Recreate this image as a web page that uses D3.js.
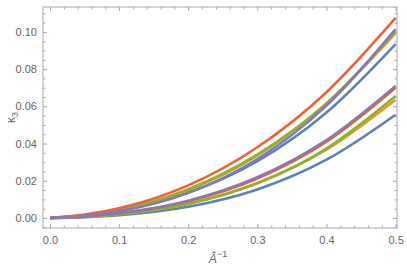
<!DOCTYPE html>
<html>
<head>
<meta charset="utf-8">
<script src="https://cdn.jsdelivr.net/npm/d3@7"></script>
<style>
  body { margin: 0; background: #fff; }
  svg text { font-family: "Liberation Sans", Arial, sans-serif; }
</style>
</head>
<body>
<div id="chart"></div>
<script>
// x values (Â^-1) where the curves were read
const xVals = [0, 0.05, 0.1, 0.2, 0.3, 0.4, 0.5];

// upper bundle of curves
const upBlue   = [0, 0.0013, 0.0039, 0.0135, 0.0305, 0.0567, 0.0935];
const upOrange = [0, 0.0015, 0.0045, 0.0155, 0.0342, 0.0616, 0.0993];
const upGreen  = [0, 0.0014, 0.0043, 0.0150, 0.0336, 0.0615, 0.1003];
const upRed    = [0, 0.0018, 0.0052, 0.0175, 0.0380, 0.0676, 0.1075];
const upPurple = [0, 0.0012, 0.0036, 0.0135, 0.0317, 0.0604, 0.1015];

// lower bundle of curves
const loBlue   = [0, 0.00045, 0.0015, 0.0060, 0.0153, 0.0313, 0.0555];
const loOrange = [0, 0.00072, 0.0021, 0.0078, 0.0188, 0.0367, 0.0635];
const loGreen  = [0, 0.00065, 0.0019, 0.0075, 0.0186, 0.0373, 0.0655];
const loRed    = [0, 0.00086, 0.0025, 0.0090, 0.0212, 0.0410, 0.0700];
const loPurple = [0, 0.00085, 0.0026, 0.0093, 0.0219, 0.0419, 0.0710];

const xMajor = [0, 0.1, 0.2, 0.3, 0.4, 0.5];
const yMajor = [0, 0.02, 0.04, 0.06, 0.08, 0.10];

// Mathematica default palette
const palette = ["#5E81B5", "#E19C24", "#8FB032", "#EB6235", "#8778B3"];

const series = [
  upBlue, upOrange, upGreen, upRed, upPurple,
  loBlue, loOrange, loGreen, loRed, loPurple
];

const W = 407, H = 270;
const mLeft = 43, mRight = 397, mTop = 7, mBottom = 228;
const frameCol = "#a8a8a8";
const labelCol = "#666";

const svg = d3.select("#chart").append("svg")
  .attr("width", W).attr("height", H);

const x = d3.scaleLinear().domain([-0.0101, 0.502]).range([mLeft, mRight]);
const y = d3.scaleLinear().domain([-0.0054, 0.1134]).range([mBottom, mTop]);

// minor ticks
const xMinor = d3.range(0, 0.501, 0.02).filter(v => !xMajor.some(m => Math.abs(m - v) < 1e-9));
const yMinor = d3.range(-0.005, 0.1131, 0.005).filter(v => !yMajor.some(m => Math.abs(m - v) < 1e-9));

function styleAxis(g) {
  g.select(".domain").remove();
  g.selectAll("line").attr("stroke", frameCol);
  g.selectAll("text").attr("fill", labelCol).attr("font-size", 11);
}

// bottom
svg.append("g").attr("transform", `translate(0,${mBottom})`)
  .call(d3.axisBottom(x).tickValues(xMajor).tickSize(-4).tickPadding(8).tickFormat(d3.format(".1f")))
  .call(styleAxis);
svg.append("g").attr("transform", `translate(0,${mBottom})`)
  .call(d3.axisBottom(x).tickValues(xMinor).tickSize(-2.5).tickFormat(""))
  .call(styleAxis);
// top
svg.append("g").attr("transform", `translate(0,${mTop})`)
  .call(d3.axisTop(x).tickValues(xMajor).tickSize(-4).tickFormat(""))
  .call(styleAxis);
svg.append("g").attr("transform", `translate(0,${mTop})`)
  .call(d3.axisTop(x).tickValues(xMinor).tickSize(-2.5).tickFormat(""))
  .call(styleAxis);
// left
svg.append("g").attr("transform", `translate(${mLeft},0)`)
  .call(d3.axisLeft(y).tickValues(yMajor).tickSize(-4).tickPadding(6).tickFormat(d3.format(".2f")))
  .call(styleAxis);
svg.append("g").attr("transform", `translate(${mLeft},0)`)
  .call(d3.axisLeft(y).tickValues(yMinor).tickSize(-2.5).tickFormat(""))
  .call(styleAxis);
// right
svg.append("g").attr("transform", `translate(${mRight},0)`)
  .call(d3.axisRight(y).tickValues(yMajor).tickSize(-4).tickFormat(""))
  .call(styleAxis);
svg.append("g").attr("transform", `translate(${mRight},0)`)
  .call(d3.axisRight(y).tickValues(yMinor).tickSize(-2.5).tickFormat(""))
  .call(styleAxis);

// curves
const line = d3.line()
  .x((d, i) => x(xVals[i]))
  .y(d => y(d))
  .curve(d3.curveMonotoneX);

const plot = svg.append("g");
series.forEach((s, i) => {
  plot.append("path")
    .attr("d", line(s))
    .attr("fill", "none")
    .attr("stroke", palette[i % 5])
    .attr("stroke-width", 2.6)
    .attr("stroke-linecap", "butt");
});

// frame
svg.append("rect")
  .attr("x", mLeft).attr("y", mTop)
  .attr("width", mRight - mLeft).attr("height", mBottom - mTop)
  .attr("fill", "none").attr("stroke", frameCol).attr("stroke-width", 1);

// axis labels
const yl = svg.append("text")
  .attr("transform", `translate(15,${(mTop + mBottom) / 2}) rotate(-90)`)
  .attr("text-anchor", "middle")
  .attr("fill", labelCol).attr("font-size", 12);
yl.append("tspan").text("κ");
yl.append("tspan").attr("font-size", 9).attr("dy", 3).text("3");

const xl = svg.append("text")
  .attr("x", (mLeft + mRight) / 2 - 2).attr("y", 263)
  .attr("text-anchor", "middle")
  .attr("fill", labelCol).attr("font-size", 12);
xl.append("tspan").attr("font-style", "italic").text("Â");
xl.append("tspan").attr("font-size", 9).attr("dy", -6).text("−1");
</script>
</body>
</html>
